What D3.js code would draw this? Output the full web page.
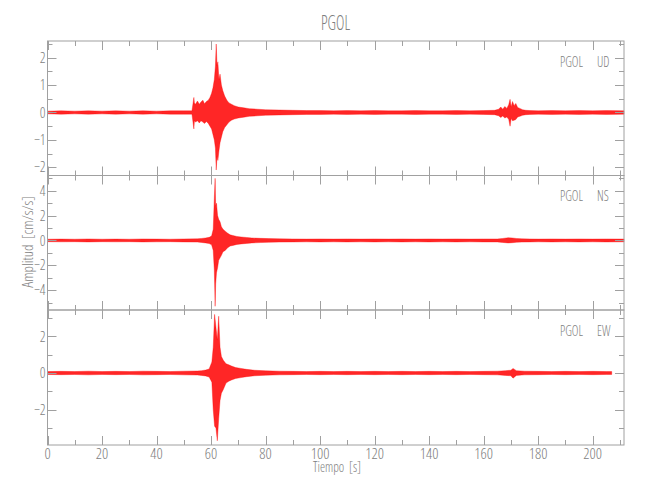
<!DOCTYPE html>
<html>
<head>
<meta charset="utf-8">
<script src="https://cdn.jsdelivr.net/npm/d3@7"></script>
<style>
  html, body { margin: 0; padding: 0; background: #fff; }
  text { font-family: "Open Sans", "DejaVu Sans Condensed", sans-serif; font-weight: 300; font-stretch: condensed; fill: #7e7e7e; white-space: pre; }
</style>
</head>
<body>
<script>
// ---------------- DATA ----------------
const station = "PGOL";
const components = ["UD", "NS", "EW"];
const xDomain = [0, 211.5];
const xMajorTicks = [0, 20, 40, 60, 80, 100, 120, 140, 160, 180, 200];
const xMinorTicks = [10, 30, 50, 70, 90, 110, 130, 150, 170, 190, 210];

// UD component envelope (time s, upper value, lower value)
const timeUD = [0, 5, 10, 15, 20, 25, 30, 35, 40, 45, 50, 53, 53.7, 53.9, 54.3, 55, 55.7, 56.3, 57, 57.6, 58.3, 59, 59.6, 60.2, 60.7, 61.2, 61.6, 61.9, 62.2, 62.5, 62.9, 63.3, 63.8, 64.3, 65, 65.8, 66.6, 67.5, 68.5, 70, 72, 74, 77, 80, 85, 90, 95, 100, 105, 110, 115, 120, 125, 130, 135, 140, 145, 150, 155, 160, 164, 165.5, 166.3, 167, 167.8, 168.5, 169.2, 169.7, 170.1, 170.6, 171.2, 171.8, 172.5, 173.3, 174.3, 175.5, 177, 180, 185, 190, 195, 200, 205, 211.5];
const hiUD   = [0.05, 0.06, 0.05, 0.06, 0.05, 0.06, 0.05, 0.06, 0.05, 0.06, 0.06, 0.06, 0.55, 0.35, 0.3, 0.42, 0.3, 0.38, 0.45, 0.32, 0.4, 0.45, 0.55, 0.7, 0.9, 1.2, 1.7, 2.5, 1.7, 1.85, 1.2, 1.4, 1.0, 0.8, 0.6, 0.45, 0.35, 0.3, 0.25, 0.2, 0.17, 0.14, 0.12, 0.1, 0.09, 0.08, 0.07, 0.07, 0.06, 0.07, 0.06, 0.07, 0.06, 0.06, 0.07, 0.06, 0.06, 0.07, 0.06, 0.07, 0.08, 0.12, 0.2, 0.12, 0.22, 0.15, 0.28, 0.48, 0.2, 0.4, 0.25, 0.33, 0.18, 0.15, 0.1, 0.08, 0.07, 0.06, 0.07, 0.06, 0.07, 0.06, 0.07, 0.06];
const loUD   = [-0.05, -0.06, -0.05, -0.06, -0.05, -0.06, -0.05, -0.06, -0.05, -0.06, -0.06, -0.06, -0.6, -0.3, -0.35, -0.3, -0.38, -0.3, -0.35, -0.4, -0.33, -0.4, -0.5, -0.6, -0.8, -1.0, -1.3, -2.1, -1.6, -1.75, -1.4, -1.1, -0.9, -0.7, -0.55, -0.45, -0.35, -0.28, -0.24, -0.2, -0.17, -0.14, -0.12, -0.1, -0.09, -0.08, -0.07, -0.07, -0.06, -0.07, -0.06, -0.07, -0.06, -0.06, -0.07, -0.06, -0.06, -0.07, -0.06, -0.07, -0.08, -0.12, -0.18, -0.13, -0.2, -0.16, -0.25, -0.5, -0.22, -0.3, -0.28, -0.26, -0.16, -0.14, -0.1, -0.08, -0.07, -0.06, -0.07, -0.06, -0.07, -0.06, -0.07, -0.06];

// NS component envelope
const timeNS = [0, 5, 10, 15, 20, 25, 30, 35, 40, 45, 50, 55, 56.5, 58, 59.3, 60.2, 60.8, 61.2, 61.5, 61.7, 62.0, 62.4, 62.8, 63.3, 63.8, 64.4, 65.2, 66, 67, 68, 69.5, 71, 73, 75, 78, 81, 85, 90, 95, 100, 105, 110, 115, 120, 125, 130, 135, 140, 145, 150, 155, 160, 165, 167, 169, 170.5, 172, 174, 177, 180, 185, 190, 195, 200, 205, 211.5];
const hiNS   = [0.1, 0.11, 0.1, 0.12, 0.1, 0.11, 0.1, 0.12, 0.11, 0.1, 0.12, 0.13, 0.16, 0.2, 0.25, 0.35, 0.9, 3.4, 5.0, 2.8, 3.0, 2.0, 1.7, 1.5, 1.1, 0.9, 0.75, 0.6, 0.45, 0.4, 0.32, 0.28, 0.24, 0.2, 0.17, 0.15, 0.13, 0.12, 0.11, 0.12, 0.11, 0.12, 0.11, 0.12, 0.11, 0.12, 0.11, 0.12, 0.11, 0.12, 0.11, 0.12, 0.12, 0.16, 0.22, 0.2, 0.16, 0.13, 0.12, 0.11, 0.12, 0.11, 0.12, 0.11, 0.12, 0.11];
const loNS   = [-0.1, -0.11, -0.1, -0.12, -0.1, -0.11, -0.1, -0.12, -0.11, -0.1, -0.12, -0.13, -0.16, -0.2, -0.25, -0.35, -0.8, -2.4, -5.3, -3.5, -2.6, -2.2, -1.6, -1.4, -1.2, -0.9, -0.8, -0.6, -0.45, -0.4, -0.32, -0.28, -0.24, -0.2, -0.17, -0.15, -0.13, -0.12, -0.11, -0.12, -0.11, -0.12, -0.11, -0.12, -0.11, -0.12, -0.11, -0.12, -0.11, -0.12, -0.11, -0.12, -0.12, -0.16, -0.2, -0.18, -0.15, -0.13, -0.12, -0.11, -0.12, -0.11, -0.12, -0.11, -0.12, -0.11];

// EW component envelope
const timeEW = [0, 5, 10, 15, 20, 25, 30, 35, 40, 45, 50, 55, 56.5, 58, 59.3, 60.3, 60.8, 61.3, 61.8, 62.3, 62.8, 63.3, 63.8, 64.5, 65.5, 66.5, 67.5, 69, 71, 73, 76, 80, 85, 90, 95, 100, 105, 110, 115, 120, 125, 130, 135, 140, 145, 150, 155, 160, 165, 168, 170, 170.8, 172, 175, 180, 185, 190, 195, 200, 205, 207];
const hiEW   = [0.08, 0.09, 0.08, 0.1, 0.08, 0.09, 0.08, 0.1, 0.09, 0.08, 0.1, 0.11, 0.13, 0.16, 0.22, 0.6, 1.4, 3.2, 2.5, 1.8, 3.1, 1.4, 0.9, 0.7, 0.5, 0.45, 0.38, 0.3, 0.25, 0.2, 0.15, 0.12, 0.1, 0.09, 0.08, 0.09, 0.08, 0.09, 0.08, 0.09, 0.08, 0.09, 0.08, 0.09, 0.08, 0.09, 0.08, 0.09, 0.1, 0.13, 0.15, 0.25, 0.13, 0.1, 0.09, 0.08, 0.09, 0.08, 0.09, 0.08, 0.08];
const loEW   = [-0.08, -0.09, -0.08, -0.1, -0.08, -0.09, -0.08, -0.1, -0.09, -0.08, -0.1, -0.11, -0.13, -0.16, -0.22, -0.5, -2.0, -2.9, -3.0, -3.7, -2.5, -1.5, -1.1, -0.9, -0.55, -0.45, -0.38, -0.3, -0.25, -0.2, -0.15, -0.12, -0.1, -0.09, -0.08, -0.09, -0.08, -0.09, -0.08, -0.09, -0.08, -0.09, -0.08, -0.09, -0.08, -0.09, -0.08, -0.09, -0.1, -0.13, -0.15, -0.28, -0.13, -0.1, -0.09, -0.08, -0.09, -0.08, -0.09, -0.08, -0.08];

// y axis domains and ticks per component
const yDomainUD = [-2.3, 2.61];
const yMajorUD = [-2, -1, 0, 1, 2];
const yMinorUD = [-1.5, -0.5, 0.5, 1.5, 2.5];
const yDomainNS = [-5.6, 5.23];
const yMajorNS = [-4, -2, 0, 2, 4];
const yMinorNS = [-5, -3, -1, 1, 3, 5];
const yDomainEW = [-3.93, 3.44];
const yMajorEW = [-2, 0, 2];
const yMinorEW = [-3, -1, 1, 3];

const xLabel = "Tiempo  [s]";
const yLabel = "Amplitud  [cm/s/s]";

// ---------------- DRAW ----------------
const W = 650, H = 500;
const left = 47.5, right = 624;
const panelTops = [41, 175.5, 310];
const panelBottoms = [175.5, 310, 445];
const axisColor = "#a0a0a0";
const traceColor = "#ff0000";

const svg = d3.select("body").append("svg").attr("width", W).attr("height", H);
const x = d3.scaleLinear().domain(xDomain).range([left, right]);

function txt(g, px, py, s, size, anchor, sx, rot) {
  return g.append("text")
    .attr("transform", `translate(${px},${py}) rotate(${rot || 0}) scale(${sx},1)`)
    .attr("text-anchor", anchor)
    .attr("font-size", size)
    .text(s);
}
const fmt = v => (v < 0 ? "\u2212" + Math.abs(v) : String(v));

const panels = [
  { comp: components[0], t: timeUD, hi: hiUD, lo: loUD, dom: yDomainUD, maj: yMajorUD, min: yMinorUD },
  { comp: components[1], t: timeNS, hi: hiNS, lo: loNS, dom: yDomainNS, maj: yMajorNS, min: yMinorNS },
  { comp: components[2], t: timeEW, hi: hiEW, lo: loEW, dom: yDomainEW, maj: yMajorEW, min: yMinorEW }
];

panels.forEach((p, i) => {
  const top = panelTops[i], bot = panelBottoms[i];
  const y = d3.scaleLinear().domain(p.dom).range([bot, top]);
  const g = svg.append("g");

  const rows = p.t.map((t, k) => ({ t: t, hi: p.hi[k], lo: p.lo[k] }));
  const area = d3.area().x(d => x(d.t)).y0(d => y(d.lo)).y1(d => y(d.hi)).curve(d3.curveLinear);
  g.append("path").datum(rows).attr("d", area)
    .attr("fill", traceColor).attr("fill-opacity", 0.85)
    .attr("stroke", traceColor).attr("stroke-width", 0.4).attr("stroke-opacity", 0.9);

  g.append("rect").attr("x", left).attr("y", top).attr("width", right - left).attr("height", bot - top)
    .attr("fill", "none").attr("stroke", axisColor).attr("stroke-width", 1);

  const xt = xMajorTicks.map(v => [v, 9]).concat(xMinorTicks.map(v => [v, 5]));
  xt.forEach(([v, len]) => {
    const px = Math.round(x(v)) + 0.5;
    g.append("line").attr("x1", px).attr("x2", px).attr("y1", top).attr("y2", top + len).attr("stroke", axisColor);
    g.append("line").attr("x1", px).attr("x2", px).attr("y1", bot).attr("y2", bot - len).attr("stroke", axisColor);
  });

  const yt = p.maj.map(v => [v, 9]).concat(p.min.map(v => [v, 5]));
  yt.forEach(([v, len]) => {
    const py = Math.round(y(v)) + 0.5;
    g.append("line").attr("x1", left).attr("x2", left + len).attr("y1", py).attr("y2", py).attr("stroke", axisColor);
    g.append("line").attr("x1", right).attr("x2", right - len).attr("y1", py).attr("y2", py).attr("stroke", axisColor);
  });

  p.maj.forEach(v => txt(g, 45.5, y(v) + 5.2, fmt(v), 15, "end", 0.95));

  txt(g, 560, top + 25.5, station, 14.5, "start", 0.87);
  txt(g, 597, top + 25.5, p.comp, 14.5, "start", 0.87);

  if (i === panels.length - 1) {
    xMajorTicks.forEach(v => txt(g, x(v), 459, String(v), 15, "middle", 1.02));
  }
});

txt(svg, 335.5, 30, station, 21, "middle", 0.76);
txt(svg, 337, 471.5, xLabel, 15, "middle", 0.86);
txt(svg, 33, 242, yLabel, 15, "middle", 0.98, -90);
</script>
</body>
</html>
